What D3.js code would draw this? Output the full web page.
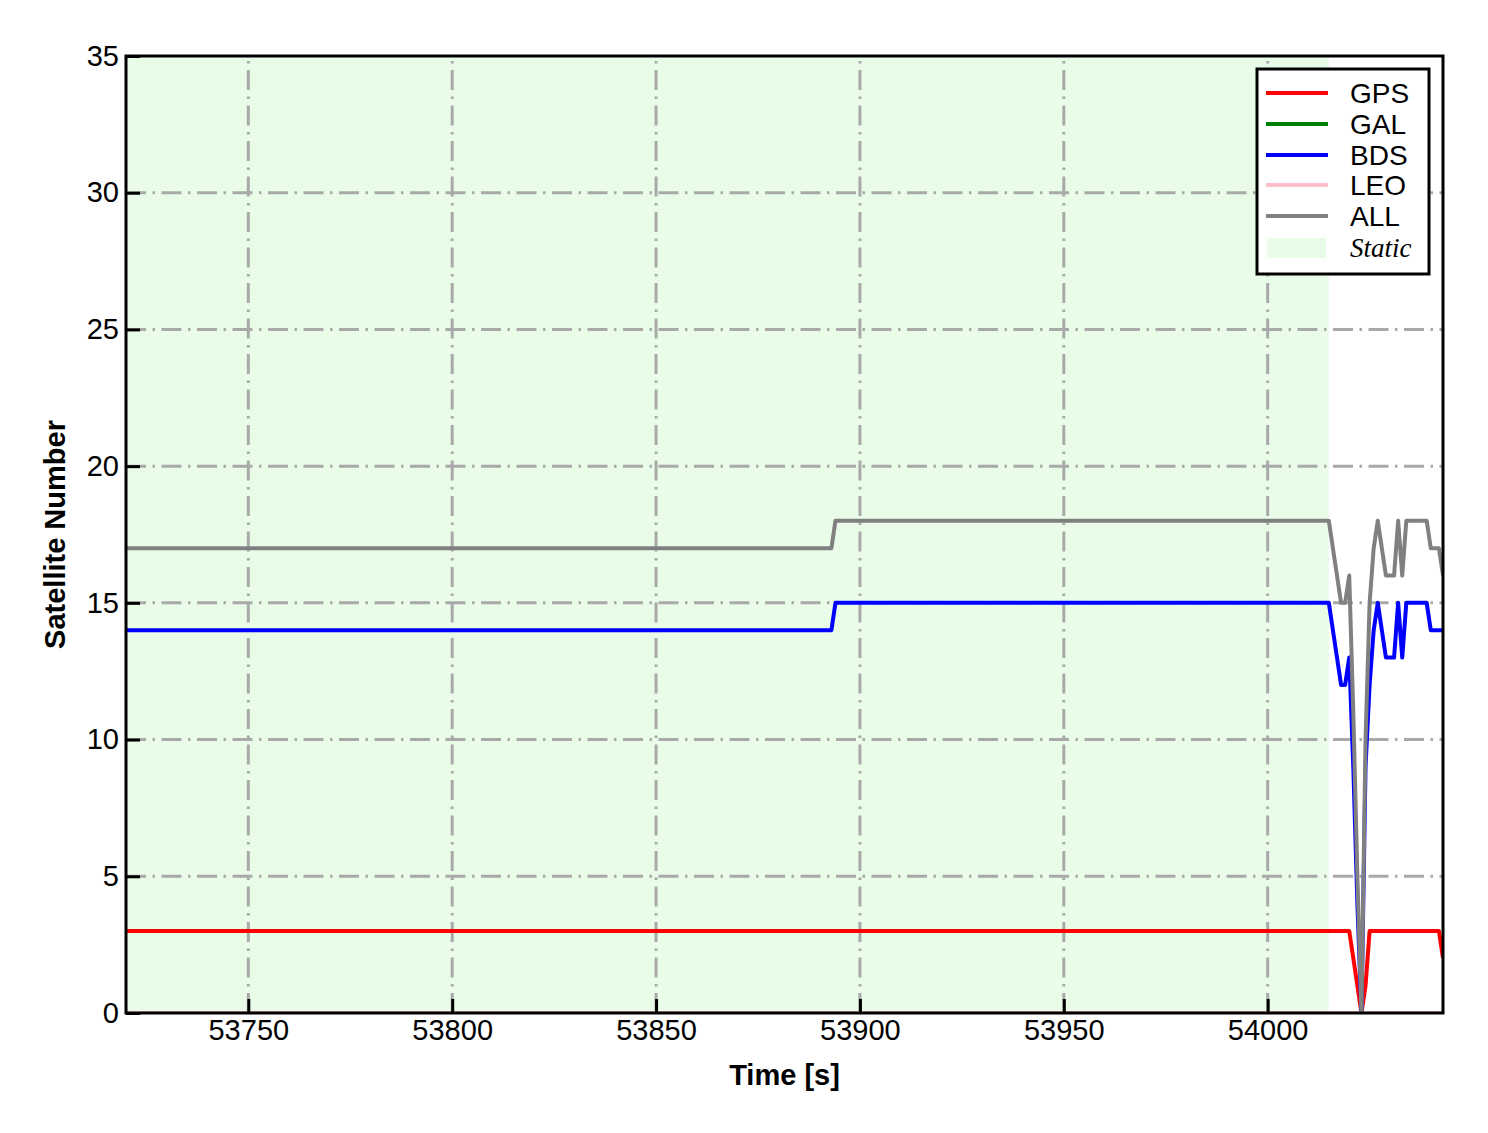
<!DOCTYPE html>
<html>
<head>
<meta charset="utf-8">
<script src="https://cdn.jsdelivr.net/npm/d3@7"></script>
<style>
  html, body { margin: 0; padding: 0; background: #fff; }
  svg { display: block; }
</style>
</head>
<body>
<svg id="chart" width="1488" height="1133"></svg>
<script>
// ---- data (vertices of the series; 1-second epochs) ----
const times = [53720, 53893, 53894, 54015, 54016, 54017, 54018, 54019, 54020, 54021, 54022, 54023, 54024, 54025, 54026, 54027, 54028, 54029, 54030, 54031, 54032, 54033, 54034, 54039, 54040, 54042, 54043];
const gps   = [3, 3, 3, 3, 3, 3, 3, 3, 3, 2, 1, 0, 1, 3, 3, 3, 3, 3, 3, 3, 3, 3, 3, 3, 3, 3, 2];
const gal   = [0, 0, 0, 0, 0, 0, 0, 0, 0, 0, 0, 0, 0, 0, 0, 0, 0, 0, 0, 0, 0, 0, 0, 0, 0, 0, 0];
const bds   = [14, 14, 15, 15, 14, 13, 12, 12, 13, 9, 4, 0, 9, 12, 14, 15, 14, 13, 13, 13, 15, 13, 15, 15, 14, 14, 14];
const leo   = [0, 0, 0, 0, 0, 0, 0, 0, 0, 0, 0, 0, 0, 0, 0, 0, 0, 0, 0, 0, 0, 0, 0, 0, 0, 0, 0];
const all   = [17, 17, 18, 18, 17, 16, 15, 15, 16, 11, 5, 0, 10, 15, 17, 18, 17, 16, 16, 16, 18, 16, 18, 18, 17, 17, 16];
const seriesNames  = ["GPS", "GAL", "BDS", "LEO", "ALL"];
const seriesColors = ["#ff0000", "#008000", "#0000ff", "#ffc0cb", "#808080"];
const staticRange = [53720, 54015];
const xDomain = [53720, 54043];
const yDomain = [0, 35];
const xTicks = [53750, 53800, 53850, 53900, 53950, 54000];
const yTicks = [0, 5, 10, 15, 20, 25, 30, 35];

const seriesValues = [gps, gal, bds, leo, all];

// ---- layout ----
const svg = d3.select("#chart");
const L = 126, R = 1443, T = 56, B = 1013;
const x = d3.scaleLinear().domain(xDomain).range([L, R]);
const y = d3.scaleLinear().domain(yDomain).range([B, T]);
const FONT = "Liberation Sans, Arial, sans-serif";
const STATIC_FILL = "#e8fce8";

const plot = svg.append("g");
plot.append("clipPath").attr("id", "clip")
  .append("rect").attr("x", L).attr("y", T).attr("width", R - L).attr("height", B - T);

// static shading
plot.append("rect")
  .attr("x", x(staticRange[0])).attr("y", T)
  .attr("width", x(staticRange[1]) - x(staticRange[0])).attr("height", B - T)
  .attr("fill", STATIC_FILL);

// grid (dash-dot)
const grid = plot.append("g").attr("stroke", "#a9a9a9").attr("stroke-width", 3)
  .attr("stroke-dasharray", "20,6.5,2.5,6.5");
grid.selectAll("line.vx").data(xTicks).join("line").attr("class", "vx")
  .attr("x1", d => x(d)).attr("x2", d => x(d)).attr("y1", B).attr("y2", T);
grid.selectAll("line.hy").data(yTicks.filter(d => d > yDomain[0] && d < yDomain[1])).join("line").attr("class", "hy")
  .attr("y1", d => y(d)).attr("y2", d => y(d)).attr("x1", L).attr("x2", R);

// series
const line = d3.line().x(d => x(d[0])).y(d => y(d[1]));
const lines = plot.append("g").attr("clip-path", "url(#clip)");
seriesValues.forEach((vals, i) => {
  lines.append("path")
    .datum(times.map((t, k) => [t, vals[k]]))
    .attr("d", line)
    .attr("fill", "none")
    .attr("stroke", seriesColors[i])
    .attr("stroke-width", 4)
    .attr("stroke-linejoin", "round");
});

// axes (inward ticks)
const xAxis = d3.axisBottom(x).tickValues(xTicks).tickSizeInner(-14).tickSizeOuter(0).tickPadding(6)
  .tickFormat(d3.format("d"));
const gx = svg.append("g").attr("transform", `translate(0,${B})`).call(xAxis);
gx.select(".domain").remove();
gx.selectAll(".tick line").attr("stroke", "#000").attr("stroke-width", 3);
gx.selectAll(".tick text").attr("font-family", FONT).attr("font-size", 29).attr("fill", "#000");

const yAxis = d3.axisLeft(y).tickValues(yTicks).tickSizeInner(-14).tickSizeOuter(0).tickPadding(7);
const gy = svg.append("g").attr("transform", `translate(${L},0)`).call(yAxis);
gy.select(".domain").remove();
gy.selectAll(".tick line").attr("stroke", "#000").attr("stroke-width", 3);
gy.selectAll(".tick text").attr("font-family", FONT).attr("font-size", 29).attr("fill", "#000");

// frame
svg.append("rect").attr("x", L).attr("y", T).attr("width", R - L).attr("height", B - T)
  .attr("fill", "none").attr("stroke", "#000").attr("stroke-width", 3);

// axis labels
svg.append("text").attr("x", (L + R) / 2).attr("y", 1085)
  .attr("text-anchor", "middle").attr("font-family", FONT)
  .attr("font-weight", "bold").attr("font-size", 29).text("Time [s]");
svg.append("text").attr("transform", `translate(65,${(T + B) / 2}) rotate(-90)`)
  .attr("text-anchor", "middle").attr("font-family", FONT)
  .attr("font-weight", "bold").attr("font-size", 29).text("Satellite Number");

// legend
const lg = svg.append("g");
lg.append("rect").attr("x", 1257).attr("y", 69).attr("width", 172).attr("height", 205)
  .attr("fill", "#fff").attr("stroke", "#000").attr("stroke-width", 3);
const rowY = [93, 124, 155, 185, 216];
seriesNames.forEach((name, i) => {
  lg.append("line").attr("x1", 1266).attr("x2", 1328).attr("y1", rowY[i]).attr("y2", rowY[i])
    .attr("stroke", seriesColors[i]).attr("stroke-width", 4);
  lg.append("text").attr("x", 1350).attr("y", rowY[i] + 10)
    .attr("font-family", FONT).attr("font-size", 28).text(name);
});
lg.append("rect").attr("x", 1267).attr("y", 238).attr("width", 59).attr("height", 20).attr("fill", STATIC_FILL);
lg.append("text").attr("x", 1350).attr("y", 257)
  .attr("font-family", "Liberation Serif, Times New Roman, serif").attr("font-style", "italic")
  .attr("font-size", 27).text("Static");
</script>
</body>
</html>
